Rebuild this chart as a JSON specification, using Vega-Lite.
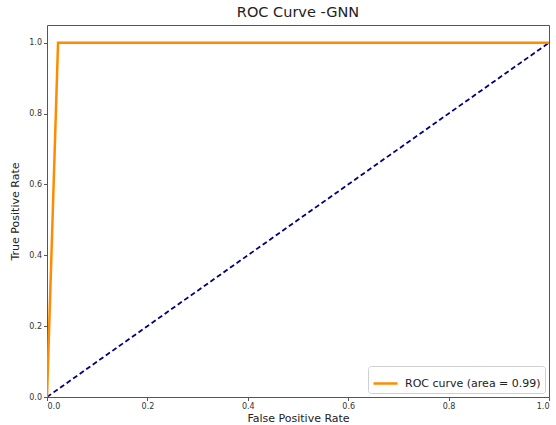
{
  "$schema": "https://vega.github.io/schema/vega-lite/v6.json",
  "width": 502,
  "height": 372,
  "autosize": {"type": "none"},
  "padding": {"left": 47, "top": 25, "right": 7, "bottom": 28},
  "background": "white",
  "title": {"text": "ROC Curve -GNN", "font": "DejaVu Sans", "fontSize": 14.5, "fontWeight": "normal", "color": "#222", "offset": 5},
  "config": {
    "view": {"stroke": "#555", "strokeWidth": 1},
    "axis": {
      "labelFont": "DejaVu Sans", "labelFontSize": 8, "labelColor": "#333",
      "titleFont": "DejaVu Sans", "titleFontSize": 11, "titleFontWeight": "normal", "titleColor": "#222",
      "grid": false, "domain": false, "tickColor": "#555", "tickSize": 3.5, "labelPadding": 2
    },
    "legend": {"labelFont": "DejaVu Sans", "labelFontSize": 11, "labelColor": "#222"}
  },
  "datasets": {
    "roc": [
      {"fpr": 0.0, "tpr": 0.0, "series": "ROC curve (area = 0.99)"},
      {"fpr": 0.022, "tpr": 1.0, "series": "ROC curve (area = 0.99)"},
      {"fpr": 1.0, "tpr": 1.0, "series": "ROC curve (area = 0.99)"}
    ],
    "diag": [
      {"fpr": 0.0, "tpr": 0.0},
      {"fpr": 1.0, "tpr": 1.0}
    ]
  },
  "layer": [
    {
      "data": {"name": "diag"},
      "mark": {"type": "line", "color": "navy", "strokeWidth": 1.8, "strokeDash": [5, 3], "clip": true},
      "encoding": {
        "x": {"field": "fpr", "type": "quantitative"},
        "y": {"field": "tpr", "type": "quantitative"}
      }
    },
    {
      "data": {"name": "roc"},
      "mark": {"type": "line", "strokeWidth": 2.5, "clip": true},
      "encoding": {
        "x": {"field": "fpr", "type": "quantitative", "scale": {"domain": [0, 1], "nice": false, "zero": false},
              "axis": {"title": "False Positive Rate", "values": [0, 0.2, 0.4, 0.6, 0.8, 1.0], "format": ".1f", "titlePadding": 2}},
        "y": {"field": "tpr", "type": "quantitative", "scale": {"domain": [0, 1.05], "nice": false, "zero": false},
              "axis": {"title": "True Positive Rate", "values": [0, 0.2, 0.4, 0.6, 0.8, 1.0], "format": ".1f", "titlePadding": 8}},
        "color": {"field": "series", "type": "nominal", "scale": {"range": ["darkorange"]},
                  "legend": {"title": null, "orient": "bottom-right", "offset": 4, "symbolType": "stroke", "symbolStrokeWidth": 2.5, "symbolSize": 576,
                             "labelOffset": 6, "padding": 4, "strokeColor": "#d0d0d0", "fillColor": "white", "cornerRadius": 3}}
      }
    }
  ]
}
